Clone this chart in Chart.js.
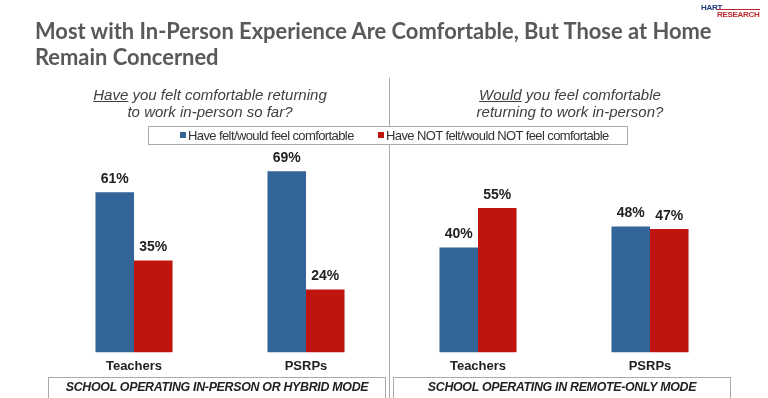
<!DOCTYPE html>
<html>
<head>
<meta charset="utf-8">
<script src="https://cdn.jsdelivr.net/npm/chart.js@4/dist/chart.umd.min.js"></script>
<style>
  html, body { margin: 0; padding: 0; background: #fff; }
  #wrap { position: relative; width: 768px; height: 398px; overflow: hidden; font-family: "Liberation Sans", Arial, sans-serif; }
  #chart { position: absolute; left: 0; top: 0; }
  .title { position: absolute; left: 35px; top: 18px; font-family: Lato, sans-serif; font-weight: 700; font-size: 21.9px; line-height: 26px; color: #595959; white-space: nowrap; }
  .logo-hart { position: absolute; left: 701px; top: 3px; font-size: 8px; font-weight: 700; color: #1f3a78; letter-spacing: -0.3px; }
  .logo-res { position: absolute; left: 717px; top: 9px; font-size: 8px; font-weight: 700; color: #c0282d; border-top: 1px solid #c0282d; line-height: 9px; letter-spacing: -0.3px; }
  .sub { position: absolute; top: 86px; width: 300px; text-align: center; font-style: italic; font-size: 15px; line-height: 17px; color: #404040; }
  .divider { position: absolute; left: 389px; top: 78px; width: 1px; height: 320px; background: #aaa; }
  .legend { position: absolute; left: 148px; top: 126px; width: 478px; height: 17px; border: 1px solid #aaa; background: #fff; font-size: 13px; color: #333; letter-spacing: -0.6px; }
  .legend span { position: absolute; top: 1px; white-space: nowrap; }
  .legend i { display: inline-block; width: 6px; height: 6px; margin-right: 2px; vertical-align: 2px; }
  .box { position: absolute; top: 377px; height: 22px; border: 1px solid #aaa; box-sizing: border-box; text-align: center; font-weight: 700; font-style: italic; font-size: 12.4px; line-height: 18px; color: #222; letter-spacing: -0.3px; }
</style>
</head>
<body>
<div id="wrap">
  <canvas id="chart" width="768" height="398"></canvas>
  <div class="title">Most with In-Person Experience Are Comfortable, But Those at Home<br>Remain Concerned</div>
  <div class="logo-hart">HART</div>
  <div class="logo-res">RESEARCH</div>
  <div class="divider"></div>
  <div class="sub" style="left:60px;"><u>Have</u> you felt comfortable returning<br>to work in-person so far?</div>
  <div class="sub" style="left:420px;"><u>Would</u> you feel comfortable<br>returning to work in-person?</div>
  <div class="legend">
    <span style="left:31px;"><i style="background:#336598"></i>Have felt/would feel comfortable</span>
    <span style="left:229px;"><i style="background:#c0150f"></i>Have NOT felt/would NOT feel comfortable</span>
  </div>
  <div class="box" style="left:48px; width:338px;">SCHOOL OPERATING IN-PERSON OR HYBRID MODE</div>
  <div class="box" style="left:393px; width:338px;">SCHOOL OPERATING IN REMOTE-ONLY MODE</div>
</div>
<script>
const categories = ['Teachers', 'PSRPs', 'Teachers', 'PSRPs'];
const comfortable = [61, 69, 40, 48];
const notComfortable = [35, 24, 55, 47];
const seriesNames = ['Have felt/would feel comfortable', 'Have NOT felt/would NOT feel comfortable'];

// Percent labels above each bar
const barLabels = {
    id: 'barLabels',
    afterDatasetsDraw(chart) {
        const ctx = chart.ctx;
        ctx.save();
        ctx.font = 'bold 14px "Liberation Sans", Arial, sans-serif';
        ctx.fillStyle = '#222';
        ctx.textAlign = 'center';
        ctx.textBaseline = 'bottom';
        chart.data.datasets.forEach((ds, i) => {
            chart.getDatasetMeta(i).data.forEach((bar, j) => {
                ctx.fillText(ds.data[j] + '%', bar.x, bar.y - 6);
            });
        });
        ctx.restore();
    }
};

new Chart(document.getElementById('chart'), {
    type: 'bar',
    data: {
        labels: categories,
        datasets: [
            { label: seriesNames[0], data: comfortable, backgroundColor: '#336598' },
            { label: seriesNames[1], data: notComfortable, backgroundColor: '#c0150f' }
        ]
    },
    options: {
        responsive: false,
        animation: false,
        events: [],
        categoryPercentage: 0.448,
        barPercentage: 1,
        layout: { padding: { left: 48, right: 32, top: 90, bottom: 18 } },
        plugins: {
            legend: { display: false },
            tooltip: { enabled: false }
        },
        scales: {
            x: {
                grid: { display: false, drawTicks: false },
                border: { display: false },
                ticks: {
                    color: '#222',
                    padding: 6,
                    font: { family: '"Liberation Sans", Arial, sans-serif', weight: 'bold', size: 13 }
                }
            },
            y: {
                display: false,
                min: 0,
                max: 100
            }
        }
    },
    plugins: [barLabels]
});
</script>
</body>
</html>
